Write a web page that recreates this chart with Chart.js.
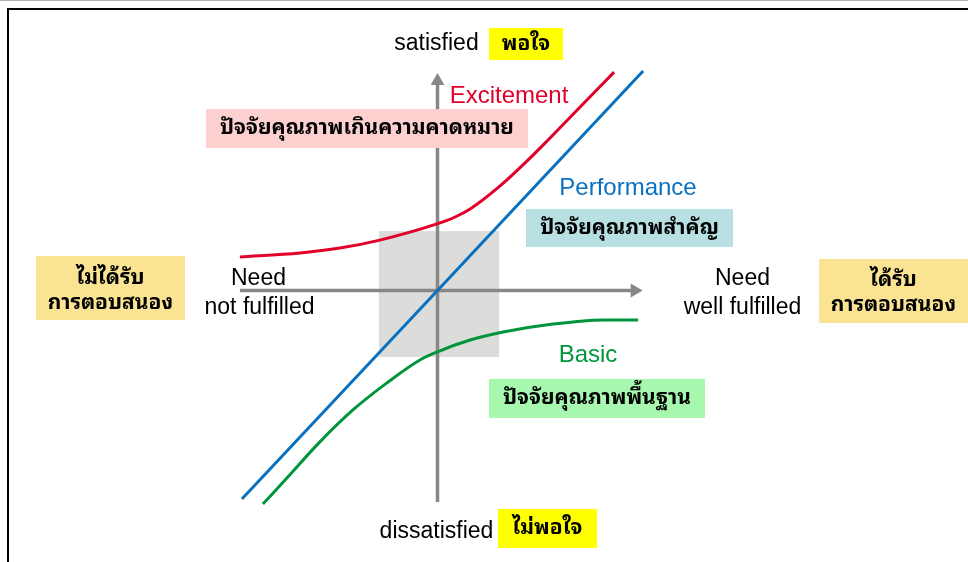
<!DOCTYPE html>
<html><head><meta charset="utf-8">
<script src="https://cdn.jsdelivr.net/npm/chart.js@4.4.1/dist/chart.umd.min.js"></script>
<style>
html,body{margin:0;padding:0;background:#fff;overflow:hidden}
#wrap{width:968px;height:562px;position:relative}
#frame{position:absolute;left:7px;top:8px;right:-5px;bottom:-5px;border-left:2px solid #000;border-top:2px solid #000;pointer-events:none}
#topline{position:absolute;left:0;top:0;width:968px;height:1px;background:#b0b0b0}
canvas{position:absolute;left:0;top:0}
</style>
</head><body><div id="wrap"><canvas id="c" width="968" height="562"></canvas><div id="topline"></div><div id="frame"></div></div>
<script>
// Kano model curves (x = need fulfillment, y = satisfaction)
const performanceX = [-0.978, 0, 1.028];
const performanceY = [-0.993, 0, 1.045];
const excitementX = [-0.988, -0.688, -0.488, -0.288, -0.003, 0.088, 0.163, 0.313, 0.448, 0.548, 0.713, 0.883];
const excitementY = [0.160, 0.179, 0.202, 0.240, 0.317, 0.350, 0.388, 0.498, 0.617, 0.712, 0.874, 1.040];
const basicX = [-0.873, -0.753, -0.588, -0.423, -0.253, -0.088, -0.003, 0.163, 0.328, 0.578, 0.828, 1.003];
const basicY = [-1.017, -0.893, -0.721, -0.569, -0.440, -0.331, -0.293, -0.236, -0.198, -0.160, -0.140, -0.140];
// axes endpoints
const hAxisX = [-0.988, 0.986];
const hAxisY = [0, 0];
const vAxisX = [0, 0];
const vAxisY = [-1.007, 0.998];
// neutral zone
const zoneX = [-0.293, 0.308];
const zoneY = [-0.317, 0.283];

const labelTexts = {
  satisfied: 'satisfied', satisfiedTh: 'พอใจ',
  dissatisfied: 'dissatisfied', dissatisfiedTh: 'ไม่พอใจ',
  excitement: 'Excitement', excitementTh: 'ปัจจัยคุณภาพเกินความคาดหมาย',
  performance: 'Performance', performanceTh: 'ปัจจัยคุณภาพสำคัญ',
  basic: 'Basic', basicTh: 'ปัจจัยคุณภาพพื้นฐาน',
  need: 'Need', notFulfilled: 'not fulfilled', wellFulfilled: 'well fulfilled',
  notGot1: 'ไม่ได้รับ', got1: 'ได้รับ', response: 'การตอบสนอง'
};

const pts = (xs, ys) => xs.map((x, i) => ({x, y: ys[i]}));

const EN = '"Liberation Sans", Arial, sans-serif';
const TH = 'Tahoma, "Noto Sans Thai Looped", "Noto Sans Thai", "Noto Sans", "DejaVu Sans", sans-serif';

const boxes = [
  {x: 0.4425, y: 1.174, w: 74, h: 32, color: '#ffff00'},
  {x: -0.3525, y: 0.771, w: 322, h: 39, color: '#fbd0cf'},
  {x: 0.96, y: 0.2976, w: 207, h: 38, color: '#b8e0e2'},
  {x: 0.7975, y: -0.514, w: 216, h: 39, color: '#a7f7ae'},
  {x: 0.55, y: -1.133, w: 99, h: 39, color: '#ffff00'},
  {x: -1.635, y: 0.0119, w: 149, h: 64, color: '#fae393'},
  {x: 2.28, y: -0.0024, w: 149, h: 64, color: '#fae393'}
];
const labels = [
  {t: labelTexts.satisfied, x: -0.005, y: 1.174, c: '#000', f: '23px ' + EN},
  {t: labelTexts.satisfiedTh, x: 0.4425, y: 1.174, c: '#000', f: 'bold 21px ' + TH},
  {t: labelTexts.excitement, x: 0.3575, y: 0.926, c: '#e2002a', f: '24px ' + EN},
  {t: labelTexts.excitementTh, x: -0.3525, y: 0.771, c: '#000', f: 'bold 21px ' + TH},
  {t: labelTexts.performance, x: 0.9525, y: 0.488, c: '#0a70c0', f: '24px ' + EN},
  {t: labelTexts.performanceTh, x: 0.96, y: 0.2976, c: '#000', f: 'bold 21px ' + TH},
  {t: labelTexts.basic, x: 0.7525, y: -0.307, c: '#00953c', f: '24px ' + EN},
  {t: labelTexts.basicTh, x: 0.7975, y: -0.514, c: '#000', f: 'bold 21px ' + TH},
  {t: labelTexts.dissatisfied, x: -0.005, y: -1.15, c: '#000', f: '23px ' + EN},
  {t: labelTexts.dissatisfiedTh, x: 0.55, y: -1.133, c: '#000', f: 'bold 21px ' + TH},
  {t: labelTexts.need, x: -0.895, y: 0.0548, c: '#000', f: '23px ' + EN},
  {t: labelTexts.notFulfilled, x: -0.89, y: -0.0833, c: '#000', f: '23px ' + EN},
  {t: labelTexts.need, x: 1.525, y: 0.0548, c: '#000', f: '23px ' + EN},
  {t: labelTexts.wellFulfilled, x: 1.525, y: -0.0833, c: '#000', f: '23px ' + EN},
  {t: labelTexts.notGot1, x: -1.635, y: 0.059, c: '#000', f: 'bold 21px ' + TH},
  {t: labelTexts.response, x: -1.635, y: -0.060, c: '#000', f: 'bold 21px ' + TH},
  {t: labelTexts.got1, x: 2.28, y: 0.050, c: '#000', f: 'bold 21px ' + TH},
  {t: labelTexts.response, x: 2.28, y: -0.069, c: '#000', f: 'bold 21px ' + TH}
];

const zonePlugin = {
  id: 'zone',
  beforeDatasetsDraw(chart) {
    const {ctx, scales: {x, y}} = chart;
    const x0 = x.getPixelForValue(zoneX[0]), x1 = x.getPixelForValue(zoneX[1]);
    const y0 = y.getPixelForValue(zoneY[1]), y1 = y.getPixelForValue(zoneY[0]);
    ctx.save();
    ctx.fillStyle = '#dcdddb';
    ctx.fillRect(x0, y0, x1 - x0, y1 - y0);
    ctx.restore();
  }
};
const labelPlugin = {
  id: 'labels',
  afterDatasetsDraw(chart) {
    const {ctx, scales: {x, y}} = chart;
    ctx.save();
    boxes.forEach(b => {
      const cx = x.getPixelForValue(b.x), cy = y.getPixelForValue(b.y);
      ctx.fillStyle = b.color;
      ctx.fillRect(cx - b.w / 2, cy - b.h / 2, b.w, b.h);
    });
    ctx.textAlign = 'center';
    ctx.textBaseline = 'middle';
    labels.forEach(l => {
      ctx.font = l.f;
      ctx.fillStyle = l.c;
      ctx.fillText(l.t, x.getPixelForValue(l.x), y.getPixelForValue(l.y));
    });
    ctx.restore();
  }
};

const axisColor = '#878787';
new Chart(document.getElementById('c'), {
  type: 'scatter',
  data: {
    datasets: [
      {data: pts(excitementX, excitementY), showLine: true, borderColor: '#e2002a', borderWidth: 3, pointRadius: 0, cubicInterpolationMode: 'monotone', order: 0},
      {data: pts(performanceX, performanceY), showLine: true, borderColor: '#0a70c0', borderWidth: 3, pointRadius: 0, order: 0},
      {data: pts(basicX, basicY), showLine: true, borderColor: '#00953c', borderWidth: 3, pointRadius: 0, cubicInterpolationMode: 'monotone', order: 0},
      {data: pts(hAxisX, hAxisY), showLine: true, borderColor: axisColor, borderWidth: 3.5, pointRadius: [0, 8], pointStyle: 'triangle', rotation: 90, pointBackgroundColor: axisColor, pointBorderWidth: 0, order: 1},
      {data: pts(vAxisX, vAxisY), showLine: true, borderColor: axisColor, borderWidth: 3.5, pointRadius: [0, 8], pointStyle: 'triangle', rotation: 0, pointBackgroundColor: axisColor, pointBorderWidth: 0, order: 1}
    ]
  },
  options: {
    responsive: false,
    animation: false,
    devicePixelRatio: 1,
    layout: {padding: 0, autoPadding: false},
    plugins: {legend: {display: false}, tooltip: {enabled: false}},
    events: [],
    scales: {
      x: {type: 'linear', display: false, min: -2.1875, max: 2.6525},
      y: {type: 'linear', display: false, min: -1.29286, max: 1.38333}
    }
  },
  plugins: [zonePlugin, labelPlugin]
});
</script>
</body></html>
